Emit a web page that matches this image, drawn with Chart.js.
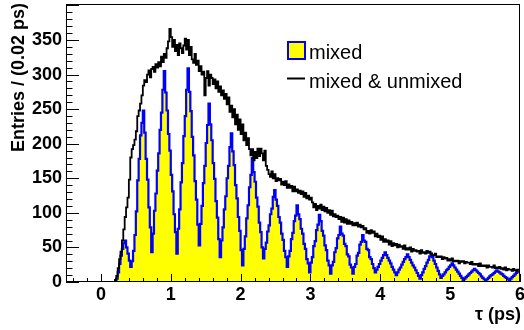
<!DOCTYPE html>
<html>
<head>
<meta charset="utf-8">
<script src="https://cdn.jsdelivr.net/npm/chart.js@4.4.0/dist/chart.umd.min.js"></script>
<style>
  html, body { margin: 0; padding: 0; background: #fff; }
  canvas { display: block; }
</style>
</head>
<body>
<canvas id="c" width="524" height="330"></canvas>
<script>
// Proper-time histograms, 0.02 ps bins from -0.5 ps to 6 ps (325 bins).
const binLow = -0.5;
const binWidth = 0.02;

// mixed & unmixed candidates per bin
const totalCounts = [
  0,0,0,0,0,0,0,0,0,0,
  0,0,0,0,0,0,0,0,0,0,
  0,0,0,0,0,0,0,0,0,0,
  0,0,0,0,0,0,3,9,20,33,
  44,60,76,94,108,122,148,180,192,198,
  206,218,240,248,258,270,284,292,289,300,
  306,296,308,311,304,315,310,318,312,326,
  318,330,324,338,348,366,354,340,350,334,
  343,328,345,338,331,342,352,336,350,328,
  340,322,317,330,314,320,305,312,300,304,
  270,295,305,284,300,295,286,293,280,290,
  275,283,270,277,265,272,257,267,246,255,
  238,250,228,242,220,235,214,228,205,216,
  198,208,192,183,192,176,188,179,193,182,
  193,186,176,190,168,162,156,152,160,150,
  156,146,150,147,149,141,145,140,146,136,
  141,136,139,131,138,131,134,129,132,127,
  131,123,129,121,125,119,122,115,108,113,
  104,110,106,112,104,109,102,107,100,104,
  97,103,95,98,94,96,91,94,87,93,
  86,91,84,89,84,87,82,85,82,86,
  80,83,79,81,76,78,71,74,70,75,
  71,73,66,70,65,67,61,66,58,62,
  58,60,54,59,52,56,53,55,50,54,
  51,52,48,53,47,49,47,50,44,48,
  45,46,44,45,41,46,42,43,41,45,
  42,44,41,39,39,41,36,37,36,37,
  33,36,34,35,31,33,31,34,30,31,
  30,31,27,30,29,30,27,29,28,28,
  26,29,25,26,25,26,23,27,23,24,
  23,24,21,24,22,22,21,24,20,21,
  20,22,19,20,18,21,17,19,18,18,
  16,19,17,16,18
];

// mixed candidates per bin
const mixedCounts = [
  0,0,0,0,0,0,0,0,0,0,
  0,0,0,0,0,0,0,0,0,0,
  0,0,0,0,0,0,0,0,0,0,
  0,0,0,0,0,0,0,5,14,26,
  38,48,56,60,50,41,31,22,30,45,
  68,102,147,178,212,230,248,216,178,148,
  108,79,43,70,103,128,161,186,220,245,
  278,305,274,248,214,190,155,131,98,72,
  41,77,105,144,172,211,240,278,309,275,
  247,210,183,146,119,83,53,84,110,143,
  168,201,227,258,228,205,172,149,117,93,
  62,36,60,79,105,124,150,168,195,215,
  189,169,140,121,94,74,46,24,48,66,
  92,111,137,155,179,159,145,122,109,86,
  72,50,34,48,57,73,82,98,106,123,
  133,119,110,94,86,70,61,45,36,22,
  37,45,62,71,88,96,111,98,91,77,
  70,55,48,33,27,14,28,36,52,59,
  75,83,97,88,74,67,53,46,31,24,
  12,24,29,43,49,63,68,80,70,67,
  55,52,40,37,25,21,12,22,26,38,
  42,54,58,68,60,58,48,46,36,33,
  26,20,14,18,22,26,31,35,39,43,
  39,35,31,27,22,18,14,10,14,18,
  21,25,29,33,36,40,36,32,28,24,
  21,17,13,9,5,10,14,19,23,28,
  32,37,41,36,31,26,21,16,11,6,
  9,11,14,17,19,22,24,27,24,21,
  18,15,12,9,6,3,5,7,9,11,
  13,15,17,19,17,15,13,11,8,6,
  4,2,4,6,8,10,11,13,15,17,
  15,14,12,11,9,7,6,4,3,5,
  7,9,11,13,15
];

const xTickLabels = [0, 1, 2, 3, 4, 5, 6];
const yTickLabels = [0, 50, 100, 150, 200, 250, 300, 350];
const xRange = [-0.5, 6];
const yRange = [0, 402];

const legendLabels = ['mixed', 'mixed & unmixed'];
const xTitle = 'τ (ps)';
const yTitle = 'Entries / (0.02 ps)';

// Turn bin contents into step points: each bin starts at its low edge,
// and one closing point marks the upper edge of the last bin.
function histPoints(counts) {
  const pts = counts.map((v, i) => ({ x: binLow + i * binWidth, y: v }));
  pts.push({ x: binLow + counts.length * binWidth, y: counts[counts.length - 1] });
  return pts;
}

const FONT = '"Liberation Sans", Arial, Helvetica, sans-serif';

// Frame, inward ticks, axis titles and the legend block.
const decor = {
  id: 'decor',
  afterDatasetsDraw(chart) {
    const { ctx, chartArea: a, scales: { x, y } } = chart;
    ctx.save();
    ctx.strokeStyle = '#000';
    ctx.lineWidth = 1;
    ctx.beginPath();
    // y ticks: major every 50, minor every 10
    for (let v = yRange[0]; v <= yRange[1] + 1e-9; v += 10) {
      const py = Math.round(y.getPixelForValue(v)) + 0.5;
      const major = Math.abs(v % 50) < 1e-9;
      ctx.moveTo(a.left, py);
      ctx.lineTo(a.left + (major ? 13 : 6.5), py);
    }
    // x ticks: major every 1, minor every 0.2
    for (let k = -2; k <= 30; k++) {
      const v = k * 0.2;
      if (v < xRange[0] || v > xRange[1] + 1e-9) continue;
      const px = Math.round(x.getPixelForValue(v)) + 0.5;
      const major = k % 5 === 0;
      ctx.moveTo(px, a.bottom);
      ctx.lineTo(px, a.bottom - (major ? 8 : 4));
    }
    ctx.stroke();
    ctx.strokeRect(a.left + 0.5, a.top + 0.5, a.right - a.left - 1, a.bottom - a.top - 1);
    ctx.restore();
  },
  afterDraw(chart) {
    const { ctx } = chart;
    ctx.save();
    ctx.fillStyle = '#000';
    // axis titles
    ctx.font = 'bold 18px ' + FONT;
    ctx.textAlign = 'right';
    ctx.textBaseline = 'alphabetic';
    ctx.fillText(xTitle, 521, 320);
    ctx.save();
    ctx.translate(24, 3);
    ctx.rotate(-Math.PI / 2);
    ctx.textAlign = 'right';
    ctx.fillText(yTitle, 0, 0);
    ctx.restore();

    // legend
    ctx.fillStyle = '#ffff00';
    ctx.fillRect(288, 42, 17, 17);
    ctx.strokeStyle = '#0000ff';
    ctx.lineWidth = 2;
    ctx.strokeRect(288, 42, 17, 17);
    ctx.strokeStyle = '#000';
    ctx.beginPath();
    ctx.moveTo(287, 78.5);
    ctx.lineTo(305, 78.5);
    ctx.stroke();
    ctx.fillStyle = '#000';
    ctx.font = '20px ' + FONT;
    ctx.textAlign = 'left';
    ctx.fillText(legendLabels[0], 309, 59);
    ctx.fillText(legendLabels[1], 309, 88);
    ctx.restore();
  }
};

new Chart(document.getElementById('c'), {
  type: 'line',
  data: {
    datasets: [
      {
        label: legendLabels[1],
        data: histPoints(totalCounts),
        stepped: 'after',
        borderColor: '#000000',
        borderWidth: 1.8,
        borderJoinStyle: 'miter',
        borderCapStyle: 'butt',
        pointRadius: 0,
        fill: false,
        order: 0
      },
      {
        label: legendLabels[0],
        data: histPoints(mixedCounts),
        stepped: 'after',
        borderColor: '#0000ff',
        borderWidth: 2.2,
        borderJoinStyle: 'miter',
        borderCapStyle: 'butt',
        backgroundColor: '#ffff00',
        fill: 'origin',
        pointRadius: 0,
        order: 1
      }
    ]
  },
  options: {
    responsive: false,
    animation: false,
    devicePixelRatio: 1,
    layout: { padding: { top: 4, right: 4, left: 0, bottom: 0 } },
    plugins: { legend: { display: false }, tooltip: { enabled: false } },
    scales: {
      x: {
        type: 'linear',
        min: xRange[0],
        max: xRange[1],
        afterBuildTicks: s => { s.ticks = xTickLabels.map(v => ({ value: v })); },
        afterFit: s => { s.height = 48; s.paddingLeft = 0; s.paddingRight = 0; },
        grid: { display: false, drawTicks: false },
        border: { display: false },
        ticks: {
          color: '#000',
          font: { family: FONT, size: 18, weight: 'bold' },
          padding: 2,
          maxRotation: 0,
          autoSkip: false
        }
      },
      y: {
        type: 'linear',
        min: yRange[0],
        max: yRange[1],
        afterBuildTicks: s => { s.ticks = yTickLabels.map(v => ({ value: v })); },
        afterFit: s => { s.width = 66; s.paddingTop = 0; s.paddingBottom = 0; },
        grid: { display: false, drawTicks: false },
        border: { display: false },
        ticks: {
          color: '#000',
          font: { family: FONT, size: 18, weight: 'bold' },
          padding: 4,
          autoSkip: false
        }
      }
    }
  },
  plugins: [decor]
});
</script>
</body>
</html>
